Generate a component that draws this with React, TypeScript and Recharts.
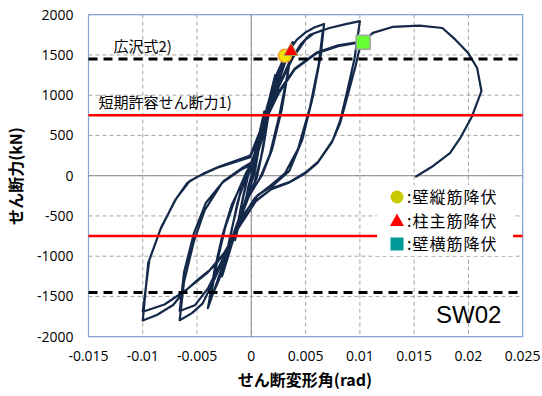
import {
  ComposedChart,
  Line,
  Scatter,
  XAxis,
  YAxis,
  CartesianGrid,
  ReferenceLine,
  ReferenceArea,
} from "recharts";

const X_TICKS = [-0.015, -0.01, -0.005, 0, 0.005, 0.01, 0.015, 0.02, 0.025];
const Y_TICKS = [-2000, -1500, -1000, -500, 0, 500, 1000, 1500, 2000];

// design strengths (kN)
const HIROSAWA_Q = 1450; // 広沢式
const ALLOWABLE_Q = 750; // 短期許容せん断力

// hysteresis, [rad, kN] per loading cycle
const cycleA = [[0, 0], [0.0002, 180], [0.0004, 350], [0.0002, 120], [0, -20], [-0.0003, -200], [-0.0006, -380], [-0.0003, -150], [0, 0]];
const cycleB1 = [[0.0004, 300], [0.0008, 560], [0.0012, 800], [0.0008, 420], [0.0003, 30], [-0.0004, -250], [-0.001, -530], [-0.0015, -800], [-0.001, -420], [-0.0004, -30]];
const cycleB2 = [[0.0003, 240], [0.0008, 530], [0.0012, 780], [0.0007, 350], [0.0002, 0], [-0.0005, -280], [-0.001, -520], [-0.0015, -780], [-0.0009, -360], [-0.0003, 0]];
const cycleC1 = [[0.0005, 300], [0.0013, 760], [0.0022, 1250], [0.0017, 850], [0.0011, 350], [0.0005, -30], [-0.0004, -280], [-0.0014, -680], [-0.0027, -1250], [-0.002, -800], [-0.0013, -350], [-0.0005, 30]];
const cycleC2 = [[0.0005, 260], [0.0014, 730], [0.0022, 1200], [0.0016, 760], [0.0009, 230], [0.0003, -80], [-0.0006, -330], [-0.0016, -720], [-0.0026, -1180], [-0.0019, -720], [-0.0011, -260], [-0.0003, 60]];
const cycleD1 = [[0.0006, 380], [0.0015, 880], [0.0024, 1280], [0.0031, 1490], [0.0036, 1600], [0.0038, 1660], [0.0034, 1300], [0.0028, 820], [0.0019, 320], [0.001, 10], [0, -200], [-0.0009, -440], [-0.002, -860], [-0.003, -1260], [-0.004, -1645], [-0.0034, -1180], [-0.0027, -760], [-0.0018, -360], [-0.0008, -80], [0.0002, 110]];
const cycleD2 = [[0.001, 460], [0.002, 960], [0.003, 1360], [0.0037, 1600], [0.0033, 1240], [0.0026, 760], [0.0017, 260], [0.0008, -30], [-0.0002, -250], [-0.0011, -560], [-0.0021, -960], [-0.003, -1300], [-0.0038, -1545], [-0.0032, -1100], [-0.0024, -640], [-0.0014, -250], [-0.0005, 30]];
const cycleE1 = [[0.0006, 300], [0.0015, 820], [0.0026, 1280], [0.0035, 1560], [0.0042, 1690], [0.005, 1780], [0.0058, 1840], [0.0067, 1885], [0.0064, 1500], [0.0057, 1000], [0.0047, 450], [0.0035, 60], [0.002, -120], [0.0006, -240], [-0.0007, -480], [-0.002, -860], [-0.0033, -1260], [-0.0045, -1590], [-0.0055, -1710], [-0.0066, -1795], [-0.0062, -1320], [-0.0053, -820], [-0.0043, -430], [-0.0027, -90], [-0.001, 70], [0.0002, 150]];
const cycleE2 = [[0.0012, 620], [0.0025, 1100], [0.0038, 1460], [0.005, 1690], [0.0058, 1770], [0.0066, 1810], [0.0062, 1380], [0.0054, 850], [0.0043, 330], [0.0031, 30], [0.0016, -140], [0.0003, -280], [-0.001, -560], [-0.0025, -1000], [-0.004, -1400], [-0.0052, -1610], [-0.0066, -1680], [-0.0062, -1200], [-0.0053, -720], [-0.0042, -340], [-0.0025, -60], [-0.0008, 100], [0.0002, 180]];
const cycleF1 = [[0.001, 560], [0.002, 960], [0.0035, 1410], [0.0046, 1640], [0.0054, 1750], [0.0072, 1835], [0.0086, 1880], [0.01, 1920], [0.0095, 1450], [0.0088, 1030], [0.0082, 690], [0.0075, 440], [0.0062, 180], [0.0051, 50], [0.0035, -80], [0.002, -150], [0.0005, -300], [-0.001, -600], [-0.0022, -920], [-0.0035, -1134], [-0.005, -1300], [-0.0063, -1457], [-0.0072, -1606], [-0.0087, -1731], [-0.01, -1800], [-0.0095, -1085], [-0.0084, -675], [-0.007, -300], [-0.0059, -90], [-0.005, -15], [-0.0032, 95], [-0.0001, 230]];
const cycleF2 = [[0.001, 600], [0.0025, 1020], [0.004, 1320], [0.006, 1520], [0.008, 1610], [0.0101, 1660], [0.0096, 1360], [0.0089, 1010], [0.0082, 660], [0.0074, 410], [0.0061, 160], [0.005, 30], [0.0034, -90], [0.0018, -170], [0.0004, -320], [-0.0012, -650], [-0.0025, -960], [-0.004, -1200], [-0.006, -1420], [-0.008, -1600], [-0.01, -1690], [-0.0094, -1050], [-0.0083, -640], [-0.0069, -280], [-0.0057, -70], [-0.0045, 20], [-0.003, 110], [-0.0001, 250]];
const finalPush = [[0.001, 620], [0.0025, 1040], [0.004, 1330], [0.006, 1530], [0.008, 1620], [0.0103, 1670], [0.0112, 1774], [0.013, 1848], [0.0155, 1865], [0.0176, 1835], [0.0188, 1690], [0.02, 1520], [0.0208, 1338], [0.0212, 1052], [0.0203, 728], [0.0193, 480], [0.0183, 280], [0.0166, 108], [0.0151, -16]];

const hysteresis = [
  cycleA, cycleB1, cycleB2, cycleC1, cycleC2, cycleD1, cycleD2,
  cycleE1, cycleE2, cycleF1, cycleF2, finalPush,
].flat().map(([x, y]) => ({ x, y }));

// yield events
const wallVertYield = [{ x: 0.0031, y: 1490 }];
const columnYield = [{ x: 0.00365, y: 1555 }];
const wallHorizYield = [{ x: 0.0103, y: 1657 }];

const NUM_FONT = "'Open Sans', 'Noto Sans CJK JP', sans-serif";
const JP_FONT = "'Noto Sans CJK JP', sans-serif";
const CURVE = "#14294a";

const circleShape = (p: any) => (
  <circle cx={p.cx} cy={p.cy} r={6.5} fill="#f2e600" stroke="#f0a030" strokeWidth={1.5} />
);
const triangleShape = (p: any) => (
  <path
    d={`M${p.cx},${p.cy - 7.5} L${p.cx + 7},${p.cy + 5} L${p.cx - 7},${p.cy + 5} Z`}
    fill="#ff0000"
    stroke="#a8a860"
    strokeWidth={1}
  />
);
const squareShape = (p: any) => (
  <rect x={p.cx - 7} y={p.cy - 7} width={14} height={14} fill="#66ff33" stroke="#a0a0a0" strokeWidth={1.5} />
);

const lineLabel = (text: string, dx: number) => (props: any) => {
  const vb = props.viewBox;
  return (
    <text x={vb.x + dx} y={vb.y - 7} fontSize={15} fontFamily={JP_FONT} fill="#000">
      {text}
    </text>
  );
};

const legendRows = [
  { label: ":壁縦筋降伏", icon: <circle cx={8} cy={8} r={6.5} fill="#c8c800" /> },
  { label: ":柱主筋降伏", icon: <path d="M8,1.5 L15,14 L1,14 Z" fill="#ff0000" /> },
  { label: ":壁横筋降伏", icon: <rect x={1.5} y={1.5} width={13} height={13} fill="#009999" /> },
];

export default function App() {
  return (
    <div style={{ position: "absolute", left: 0, top: 0, width: 542, height: 396, background: "#fff" }}>
      <ComposedChart
        width={542}
        height={396}
        data={hysteresis}
        margin={{ top: 14.7, right: 19.3, left: 28.5, bottom: 29.3 }}
      >
        <CartesianGrid stroke="#a6a6a6" strokeDasharray="4 3" />
        <XAxis
          type="number"
          dataKey="x"
          domain={[-0.015, 0.025]}
          ticks={X_TICKS}
          tickFormatter={(v) => String(v)}
          height={30}
          axisLine={false}
          tickLine={false}
          tickMargin={8}
          tick={{ fontSize: 14, fill: "#000", fontFamily: NUM_FONT }}
          label={{
            content: () => (
              <text x={305} y={386} textAnchor="middle" fontSize={16} fontWeight="bold" fontFamily={JP_FONT} fill="#000">
                せん断変形角(rad)
              </text>
            ),
          }}
        />
        <YAxis
          type="number"
          dataKey="y"
          domain={[-2000, 2000]}
          ticks={Y_TICKS}
          width={60}
          axisLine={false}
          tickLine={false}
          tickMargin={9}
          tick={{ fontSize: 14, fill: "#000", fontFamily: NUM_FONT }}
          label={{
            content: () => (
              <text
                x={22}
                y={176}
                transform="rotate(-90 22 176)"
                textAnchor="middle"
                fontSize={16}
                fontWeight="bold"
                fontFamily={JP_FONT}
                fill="#000"
              >
                せん断力(kN)
              </text>
            ),
          }}
        />
        <ReferenceLine x={0} stroke="#8c8c8c" strokeWidth={1} />
        <ReferenceLine y={0} stroke="#8c8c8c" strokeWidth={1} />
        <Line
          dataKey="y"
          type="linear"
          stroke={CURVE}
          strokeWidth={2.2}
          strokeLinejoin="round"
          dot={false}
          activeDot={false}
          isAnimationActive={false}
        />
        <ReferenceLine y={ALLOWABLE_Q} stroke="#ff0000" strokeWidth={2.5} label={{ content: lineLabel("短期許容せん断力1)", 10) }} />
        <ReferenceLine y={-ALLOWABLE_Q} stroke="#ff0000" strokeWidth={2.5} />
        <ReferenceLine y={HIROSAWA_Q} stroke="#000" strokeWidth={3} strokeDasharray="9 6" label={{ content: lineLabel("広沢式2)", 25) }} />
        <ReferenceLine y={-HIROSAWA_Q} stroke="#000" strokeWidth={3} strokeDasharray="9 6" />
        <ReferenceArea
          x1={-0.015}
          x2={0.025}
          y1={-2000}
          y2={2000}
          fill="none"
          stroke="#86a6d4"
          strokeWidth={1.2}
        />
        <Scatter data={wallVertYield} shape={circleShape} isAnimationActive={false} />
        <Scatter data={columnYield} shape={triangleShape} isAnimationActive={false} />
        <Scatter data={wallHorizYield} shape={squareShape} isAnimationActive={false} />
      </ComposedChart>

      <div
        style={{
          position: "absolute",
          left: 377,
          top: 185,
          width: 136,
          height: 71,
          background: "#fff",
          fontFamily: JP_FONT,
          fontSize: 16,
          color: "#000",
        }}
      >
        {legendRows.map((r) => (
          <div key={r.label} style={{ display: "flex", alignItems: "center", height: 23.5, lineHeight: "23.5px" }}>
            <svg width={16} height={16} style={{ marginLeft: 12, marginRight: 2 }}>
              {r.icon}
            </svg>
            <span style={{ letterSpacing: 1 }}>{r.label}</span>
          </div>
        ))}
      </div>

      <div
        style={{
          position: "absolute",
          left: 436,
          top: 301,
          fontFamily: "'Liberation Sans', sans-serif",
          fontSize: 24,
          color: "#000",
        }}
      >
        SW02
      </div>
    </div>
  );
}
